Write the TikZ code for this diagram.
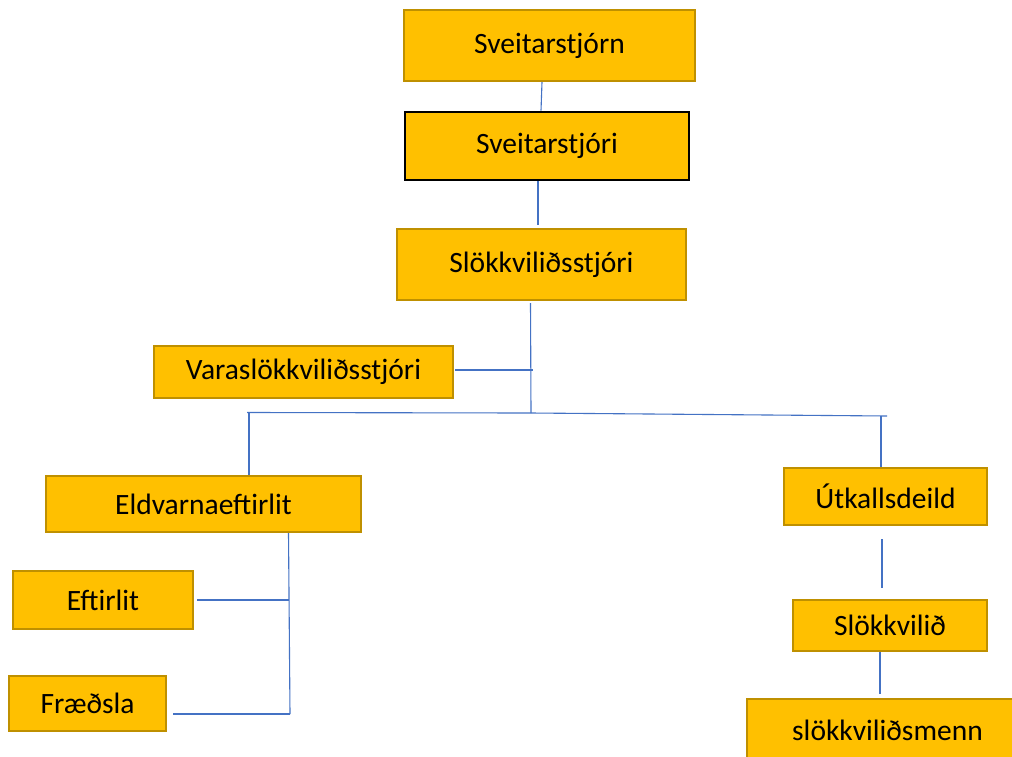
\documentclass[tikz,border=0pt]{standalone}
\usepackage{fontspec}
\setmainfont{Carlito}
\definecolor{orgfill}{HTML}{FFC000}
\definecolor{orgedge}{HTML}{BF9000}
\definecolor{orgline}{HTML}{4472C4}

\begin{document}
\begin{tikzpicture}[x=1pt, y=-1pt,
    unit/.style={draw=orgedge, fill=orgfill, line width=2pt, inner sep=0pt,
      font=\fontsize{29.5}{34}\selectfont},
    link/.style={draw=orgline, line width=1.1pt}]

  % page
  \useasboundingbox (0,0) rectangle (1012,756);
  \fill[white] (0,0) rectangle (1012,756);
  \clip (0,0) rectangle (1012,756);

  % boxes
  \node[unit, minimum width=291pt, minimum height=71pt] (council) at (549.5,45.5) {Sveitarstjórn};
  \node[unit, draw=black, line width=2.8pt, minimum width=284pt, minimum height=68pt] (mayor) at (547,146) {Sveitarstjóri};
  \node[unit, minimum width=289pt, minimum height=71pt] (chief) at (541.5,264.5) {Slökkviliðsstjóri};
  \node[unit, minimum width=299pt, minimum height=52pt] (deputy) at (303.5,372) {Varaslökkviliðsstjóri};
  \node[unit, minimum width=315pt, minimum height=56pt] (prevention) at (203.5,504) {Eldvarnaeftirlit};
  \node[unit, minimum width=180pt, minimum height=58pt] (inspection) at (103,600) {Eftirlit};
  \node[unit, minimum width=157pt, minimum height=55pt] (education) at (87.5,703.5) {Fræðsla};
  \node[unit, minimum width=203pt, minimum height=57pt] (callout) at (885.5,496.5) {Útkallsdeild};
  \node[unit, minimum width=194pt, minimum height=51pt] (brigade) at (890,625.5) {Slökkvilið};
  \node[unit, minimum width=281pt, minimum height=62pt] (crew) at (887.5,730) {slökkviliðsmenn};

  % joints of the lines
  \coordinate (hub) at (531,413);
  \coordinate (busW) at (247,412.5);
  \coordinate (busE) at (887,416);
  \coordinate (deputyJoin) at (533,370);
  \coordinate (railTop) at ([xshift=85pt]prevention.south);
  \coordinate (railBot) at (290,714);

  % top of the chart
  \draw[link] ([xshift=-7.5pt]council.south) -- ([xshift=-6pt]mayor.north);
  \draw[link] ([xshift=-9pt]mayor.south) -- ([xshift=-3.5pt,yshift=3pt]chief.north);
  \draw[link] ([xshift=-11pt,yshift=-2pt]chief.south) -- (hub);
  \draw[link] ([xshift=1pt,yshift=2pt]deputy.east) -- (deputyJoin);

  % the bus
  \draw[link] (busW) -- (hub) -- (busE);
  \draw[link] ([xshift=45.5pt]prevention.north) -- ([xshift=45.5pt]prevention.north |- busW);
  \draw[link] ([xshift=-4.5pt]callout.north) -- ([xshift=-4.5pt]callout.north |- busE);

  % left branch
  \draw[link] (railTop) -- (railBot);
  \draw[link] ([xshift=3pt]inspection.east) -- (inspection.east -| railTop);
  \draw[link] (railBot) -- ([xshift=6pt]railBot -| education.east);

  % right branch
  \draw[link] ([xshift=-3.5pt,yshift=-13pt]callout.south) -- ([xshift=-8pt,yshift=11pt]brigade.north);
  \draw[link] ([xshift=-10pt]brigade.south) -- ([xshift=-7.5pt,yshift=4pt]crew.north);
\end{tikzpicture}
\end{document}
